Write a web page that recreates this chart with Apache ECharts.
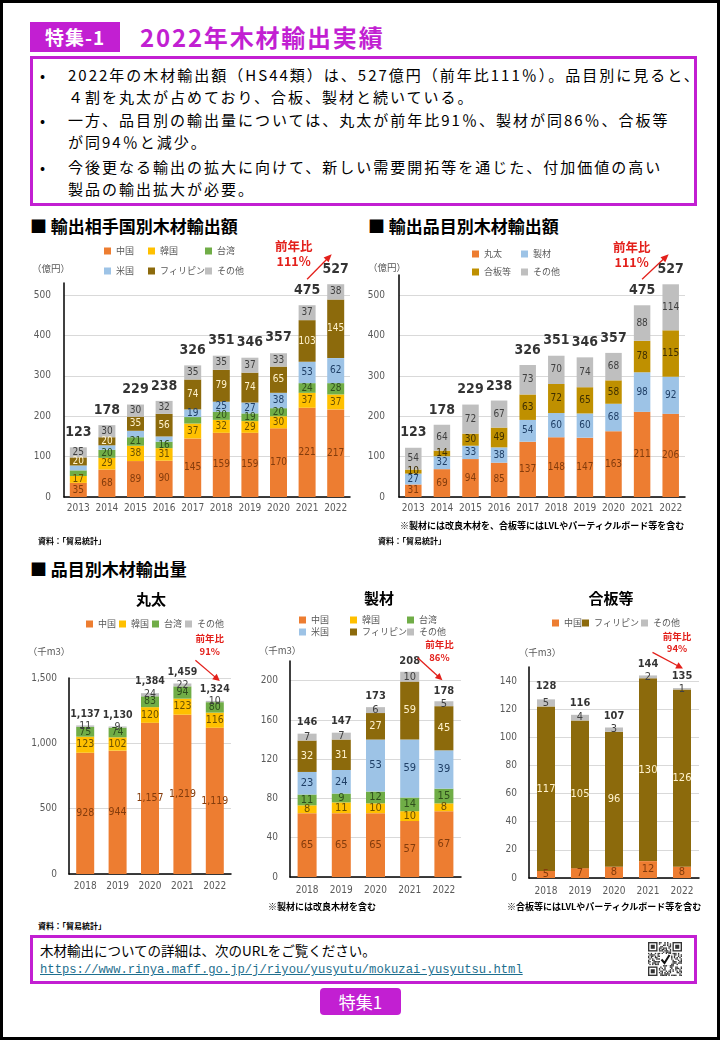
<!DOCTYPE html>
<html><head><meta charset="utf-8">
<script src="https://cdn.jsdelivr.net/npm/echarts@6/dist/echarts.min.js"></script>
<style>
html,body{margin:0;padding:0;background:#fff;}
#page{position:relative;width:720px;height:1040px;background:#fff;overflow:hidden;font-family:'Noto Sans CJK JP',sans-serif;color:#000;}
.a{position:absolute;white-space:nowrap;}
#frame{position:absolute;left:0;top:0;width:720px;height:1040px;box-sizing:border-box;border:3px solid #000;pointer-events:none;z-index:50;}
.tag{left:30px;top:22px;width:90px;height:30px;background:#C21FD2;color:#fff;font-weight:bold;font-size:19px;line-height:30px;text-align:center;letter-spacing:1px;}
.ttl{left:140px;top:21px;height:32px;line-height:32px;color:#C21FD2;font-weight:bold;font-size:24px;letter-spacing:1.8px;}
.box{left:30px;top:56px;width:667px;height:150px;box-sizing:border-box;border:3px solid #C21FD2;}
.bl{font-size:15px;line-height:22px;letter-spacing:2px;}
.dot{font-size:15px;line-height:22px;}
.sec{font-size:17px;font-weight:bold;line-height:20px;}
.note{font-size:9px;font-weight:bold;line-height:12px;}
.src{font-size:8px;font-weight:bold;line-height:12px;}
.chart{position:absolute;}
.foot{left:30px;top:935px;width:667px;height:49px;box-sizing:border-box;border:3px solid #C21FD2;}
.btn{left:320px;top:988px;width:81px;height:27px;background:#C21FD2;border-radius:4px;color:#fff;font-size:17px;line-height:27px;text-align:center;}
</style></head>
<body>
<div id="page">
  <div class="a tag">特集-1</div>
  <div class="a ttl">2022年木材輸出実績</div>
  <div class="a box"></div>
  <div class="a dot" style="left:40px;top:64px;">•</div>
  <div class="a bl" style="left:68px;top:64px;">2022年の木材輸出額（HS44類）は、527億円（前年比111％）。品目別に見ると、<br>４割を丸太が占めており、合板、製材と続いている。</div>
  <div class="a dot" style="left:40px;top:109px;">•</div>
  <div class="a bl" style="left:68px;top:109px;">一方、品目別の輸出量については、丸太が前年比91％、製材が同86％、合板等<br>が同94％と減少。</div>
  <div class="a dot" style="left:40px;top:156px;">•</div>
  <div class="a bl" style="left:68px;top:156px;">今後更なる輸出の拡大に向けて、新しい需要開拓等を通じた、付加価値の高い<br>製品の輸出拡大が必要。</div>

  <div class="a sec" style="left:30px;top:216px;">■ 輸出相手国別木材輸出額</div>
  <div class="a sec" style="left:368px;top:216px;">■ 輸出品目別木材輸出額</div>
  <div class="a sec" style="left:30px;top:559px;">■ 品目別木材輸出量</div>

  <div id="c1" class="chart" style="left:0px;top:230px;width:360px;height:330px;"></div>
  <div id="c2" class="chart" style="left:360px;top:230px;width:360px;height:330px;"></div>
  <div id="c3" class="chart" style="left:0px;top:580px;width:250px;height:330px;"></div>
  <div id="c4" class="chart" style="left:250px;top:580px;width:240px;height:330px;"></div>
  <div id="c5" class="chart" style="left:490px;top:580px;width:230px;height:330px;"></div>

  <div class="a src" style="left:38px;top:535px;">資料：「貿易統計」</div>
  <div class="a note" style="left:400px;top:520px;">※製材には改良木材を、合板等にはLVLやパーティクルボード等を含む</div>
  <div class="a src" style="left:378px;top:535px;">資料：「貿易統計」</div>
  <div class="a note" style="left:268px;top:901px;">※製材には改良木材を含む</div>
  <div class="a note" style="left:507px;top:901px;">※合板等にはLVLやパーティクルボード等を含む</div>
  <div class="a src" style="left:38px;top:920px;">資料：「貿易統計」</div>

  <div class="a foot"></div>
  <div class="a" style="left:40px;top:941px;font-size:13.5px;line-height:18px;">木材輸出についての詳細は、次のURLをご覧ください。</div>
  <div class="a" style="left:40px;top:961px;font-size:12.2px;line-height:18px;font-family:'Liberation Mono','DejaVu Sans Mono',monospace;color:#1E6F8E;text-decoration:underline;">https://www.rinya.maff.go.jp/j/riyou/yusyutu/mokuzai-yusyutsu.html</div>
  <canvas id="qr" class="a" width="34" height="35" style="left:648px;top:942px;width:34px;height:35px;"></canvas>
  <div class="a btn">特集1</div>
  <div id="frame"></div>
</div>
<script>
// ===== data =====
const years10 = ['2013','2014','2015','2016','2017','2018','2019','2020','2021','2022'];
// 輸出相手国別木材輸出額（億円）
const expChina  = [35, 68, 89, 90, 145, 159, 159, 170, 221, 217];
const expKorea  = [17, 29, 38, 31, 37, 32, 29, 30, 37, 37];
const expTaiwan = [14, 20, 21, 16, 16, 20, 19, 20, 24, 28];
const expUSA    = [12, 11, 16, 13, 19, 25, 27, 38, 53, 62];
const expPhil   = [20, 20, 35, 56, 74, 79, 74, 65, 103, 145];
const expOther  = [25, 30, 30, 32, 35, 35, 37, 33, 37, 38];
const expTotal  = [123, 178, 229, 238, 326, 351, 346, 357, 475, 527];
// 輸出品目別木材輸出額（億円）
const itemLog    = [31, 69, 94, 85, 137, 148, 147, 163, 211, 206];
const itemLumber = [27, 32, 33, 38, 54, 60, 60, 68, 98, 92];
const itemPly    = [10, 14, 30, 49, 63, 72, 65, 58, 78, 115];
const itemOther  = [54, 64, 72, 67, 73, 70, 74, 68, 88, 114];
const itemTotal  = [123, 178, 229, 238, 326, 351, 346, 357, 475, 527];

const years5 = ['2018','2019','2020','2021','2022'];
// 丸太（千m3）
const logChina  = [928, 944, 1157, 1219, 1119];
const logKorea  = [123, 102, 120, 123, 116];
const logTaiwan = [75, 74, 83, 94, 80];
const logOther  = [11, 9, 24, 22, 10];
const logTotal  = [1137, 1130, 1384, 1459, 1324];
// 製材（千m3）
const lumChina  = [65, 65, 65, 57, 67];
const lumKorea  = [8, 11, 10, 10, 8];
const lumTaiwan = [11, 9, 12, 14, 15];
const lumUSA    = [23, 24, 53, 59, 39];
const lumPhil   = [32, 31, 27, 59, 45];
const lumOther  = [7, 7, 6, 10, 5];
const lumTotal  = [146, 147, 173, 208, 178];
// 合板等（千m3）
const plyChina = [5, 7, 8, 12, 8];
const plyPhil  = [117, 105, 96, 130, 126];
const plyOther = [5, 4, 3, 2, 1];
const plyTotal = [128, 116, 107, 144, 135];

// tick labels
const ticksValue = [0, 100, 200, 300, 400, 500];
const ticksLog   = [0, 500, 1000, 1500];
const ticksLum   = [0, 40, 80, 120, 160, 200];
const ticksPly   = [0, 20, 40, 60, 80, 100, 120, 140];

const yoyValue = ['前年比', '111%'];
const yoyLog = ['前年比', '91%'];
const yoyLum = ['前年比', '86%'];
const yoyPly = ['前年比', '94%'];

// ===== styles =====
const NUM = "'DejaVu Sans Condensed','DejaVu Sans',sans-serif";
const JP = "'Noto Sans CJK JP',sans-serif";
const C = {china:'#ED7D31', korea:'#FFC000', taiwan:'#70AD47', usa:'#9DC3E6', phil:'#8C6A0C', other:'#BFBFBF', ply:'#BF9000'};
const L = {china:'#843C0C', korea:'#6B5000', taiwan:'#2F4F1C', usa:'#1F3F66', phil:'#FFF2CC', other:'#404040', ply:'#3F2F00'};
const fmt = v => Number(v).toLocaleString('en-US');

function arrowGraphic(s, e, head, w) {
  const dx = e[0]-s[0], dy = e[1]-s[1], len = Math.hypot(dx, dy);
  const ux = dx/len, uy = dy/len, nx = -uy, ny = ux;
  const bx = e[0]-ux*head, by = e[1]-uy*head;
  return [
    {type:'line', silent:true, z:100, shape:{x1:s[0], y1:s[1], x2:bx+ux, y2:by+uy}, style:{stroke:'#E3201B', lineWidth:1.3}},
    {type:'polygon', silent:true, z:100, shape:{points:[[e[0],e[1]],[bx+nx*w,by+ny*w],[bx-nx*w,by-ny*w]]}, style:{fill:'#E3201B'}}
  ];
}

function build(id, c) {
  const chart = echarts.init(document.getElementById(id), null, {renderer:'canvas'});
  const series = c.series.map(s => ({
    type:'bar', name:s.name, stack:'t', barWidth:c.barWidth, animation:false,
    itemStyle:{color:s.color}, emphasis:{disabled:true},
    label:{show:true, position:'inside', color:s.lc, fontSize:c.ls, fontFamily:NUM, formatter:p => fmt(p.value)},
    data:s.data.map((v, j) => (s.hide && s.hide.indexOf(j) >= 0) ? {value:v, label:{show:false}} : v)
  }));
  series.push({type:'scatter', name:'合計', data:c.totals, symbolSize:0, silent:true, z:10, animation:false,
    label:{show:true, position:'top', distance:c.td, color:'#000', fontWeight:'bold', fontSize:c.ts, fontFamily:NUM, formatter:p => fmt(p.value)}});
  const legend = c.legend.map(l => ({
    data:[l[0]], left:l[1], top:l[2], padding:0, itemGap:0, itemWidth:7, itemHeight:7, icon:'rect', selectedMode:false,
    textStyle:{fontSize:9, color:'#595959', fontFamily:JP, lineHeight:12}
  }));
  const graphic = [{type:'text', silent:true, style:{text:c.unit[0], x:c.unit[1], y:c.unit[2], align:'center', verticalAlign:'middle', fill:'#595959', fontSize:9.5, fontFamily:JP}}];
  if (c.title) graphic.push({type:'text', silent:true, style:{text:c.title[0], x:c.title[1], y:c.title[2], align:'center', verticalAlign:'middle', fill:'#000', fontSize:15, fontWeight:'bold', fontFamily:JP}});
  chart.setOption({
    animation:false,
    grid:Object.assign({outerBoundsMode:'none', containLabel:false}, c.grid),
    legend:legend,
    tooltip:{show:false},
    xAxis:{type:'category', data:c.cats,
      axisLine:{show:true, lineStyle:{color:'#000', width:1.5}}, axisTick:{show:false},
      axisLabel:{interval:0, color:'#595959', fontSize:10, fontFamily:NUM, margin:c.xlm}},
    yAxis:{type:'value', min:0, max:c.max,
      axisLine:{show:true, lineStyle:{color:'#000', width:1.5}},
      axisTick:{show:false, customValues:c.ticks},
      axisLabel:{customValues:c.ticks, color:'#595959', fontSize:10, fontFamily:NUM, margin:c.ylm, formatter:v => fmt(v)},
      splitLine:{show:true, lineStyle:{color:'#D9D9D9', width:1}}},
    series:series,
    graphic:graphic
  });
  // YoY annotation anchored on the last two totals
  const a = c.yoy, n = c.totals.length;
  const p1 = chart.convertToPixel({gridIndex:0}, [n-2, c.totals[n-2]]);
  const p2 = chart.convertToPixel({gridIndex:0}, [n-1, c.totals[n-1]]);
  const s = [p1[0]+a.s[0], p1[1]+a.s[1]], e = [p2[0]+a.e[0], p2[1]+a.e[1]];
  const g = arrowGraphic(s, e, a.head, a.hw);
  g.push({type:'text', silent:true, z:100, style:{text:a.text[0], x:p2[0]+a.t[0], y:p2[1]+a.t[1], align:'center', verticalAlign:'middle', fill:'#E3201B', fontSize:a.fs, fontWeight:'bold', fontFamily:JP}});
  g.push({type:'text', silent:true, z:100, style:{text:a.text[1], x:p2[0]+a.t[0], y:p2[1]+a.t[2], align:'center', verticalAlign:'middle', fill:'#E3201B', fontSize:a.fs, fontWeight:'bold', fontFamily:JP}});
  chart.setOption({graphic:graphic.concat(g)});
  return chart;
}

build('c1', {
  cats:years10, totals:expTotal, max:530, ticks:ticksValue, barWidth:17, ls:10, ts:14, td:8, xlm:6, ylm:13,
  grid:{left:64, right:10, top:53, bottom:63},
  series:[
    {name:'中国', data:expChina, color:C.china, lc:L.china},
    {name:'韓国', data:expKorea, color:C.korea, lc:L.korea},
    {name:'台湾', data:expTaiwan, color:C.taiwan, lc:L.taiwan, hide:[0,4]},
    {name:'米国', data:expUSA, color:C.usa, lc:L.usa, hide:[0,1,2,3]},
    {name:'フィリピン', data:expPhil, color:C.phil, lc:L.phil},
    {name:'その他', data:expOther, color:C.other, lc:L.other}
  ],
  legend:[['中国',104,15],['韓国',148,15],['台湾',205,15],['米国',104,35],['フィリピン',148,35],['その他',205,35]],
  unit:['（億円）',51,38],
  yoy:{text:yoyValue, s:[0,-26], e:[-4,-30], t:[-42,-38,-23], fs:12.5, head:8, hw:3.5}
});

build('c2', {
  cats:years10, totals:itemTotal, max:550, ticks:ticksValue, barWidth:16.5, ls:10, ts:14, td:8, xlm:6, ylm:14,
  grid:{left:39, right:35, top:45, bottom:63},
  series:[
    {name:'丸太', data:itemLog, color:C.china, lc:L.china},
    {name:'製材', data:itemLumber, color:C.usa, lc:L.usa},
    {name:'合板等', data:itemPly, color:C.ply, lc:L.ply},
    {name:'その他', data:itemOther, color:C.other, lc:L.other}
  ],
  legend:[['丸太',112,18],['製材',161,18],['合板等',112,36],['その他',161,36]],
  unit:['（億円）',27,37],
  yoy:{text:yoyValue, s:[0,-26], e:[-2,-30], t:[-39,-37,-22], fs:12.5, head:8, hw:3.5}
});

build('c3', {
  cats:years5, totals:logTotal, max:1500, ticks:ticksLog, barWidth:18, ls:10.5, ts:10.5, td:6, xlm:7, ylm:12,
  grid:{left:69, right:19, top:98, bottom:36},
  series:[
    {name:'中国', data:logChina, color:C.china, lc:L.china},
    {name:'韓国', data:logKorea, color:C.korea, lc:L.korea},
    {name:'台湾', data:logTaiwan, color:C.taiwan, lc:L.taiwan},
    {name:'その他', data:logOther, color:C.other, lc:L.other}
  ],
  legend:[['中国',86,38],['韓国',119,38],['台湾',152,38],['その他',185,38]],
  unit:['（千m3）',49,71],
  title:['丸太',151,19],
  yoy:{text:yoyLog, s:[13,-23], e:[5,-20], t:[-5,-63,-50], fs:9.5, head:7, hw:3.5}
});

build('c4', {
  cats:years5, totals:lumTotal, max:220, ticks:ticksLum, barWidth:19, ls:11, ts:11, td:6, xlm:8, ylm:12,
  grid:{left:40, right:29, top:81, bottom:33},
  series:[
    {name:'中国', data:lumChina, color:C.china, lc:L.china},
    {name:'韓国', data:lumKorea, color:C.korea, lc:L.korea},
    {name:'台湾', data:lumTaiwan, color:C.taiwan, lc:L.taiwan},
    {name:'米国', data:lumUSA, color:C.usa, lc:L.usa},
    {name:'フィリピン', data:lumPhil, color:C.phil, lc:L.phil},
    {name:'その他', data:lumOther, color:C.other, lc:L.other}
  ],
  legend:[['中国',49,34],['韓国',100,34],['台湾',157,34],['米国',49,46],['フィリピン',100,46],['その他',157,46]],
  unit:['（千m3）',30,70],
  title:['製材',129,18],
  yoy:{text:yoyLum, s:[8,-15], e:[-1.5,-22], t:[-4.5,-58,-45], fs:9.5, head:7, hw:3.5}
});

build('c5', {
  cats:years5, totals:plyTotal, max:150, ticks:ticksPly, barWidth:18, ls:11, ts:11, td:6, xlm:8, ylm:12,
  grid:{left:39, right:21, top:87, bottom:32},
  series:[
    {name:'中国', data:plyChina, color:C.china, lc:L.china},
    {name:'フィリピン', data:plyPhil, color:C.phil, lc:L.phil},
    {name:'その他', data:plyOther, color:C.other, lc:L.other}
  ],
  legend:[['中国',62,37],['フィリピン',92,37],['その他',151,37]],
  unit:['（千m3）',50,72],
  title:['合板等',121,18],
  yoy:{text:yoyPly, s:[4.5,-23], e:[1,-19.5], t:[-5,-52,-40], fs:9.5, head:7, hw:3.5}
});

// decorative QR-like code (pattern derived from the URL string)
(function(){
  const cv = document.getElementById('qr'), ctx = cv.getContext('2d');
  const N = 25, s = 34/N, url = 'https://www.rinya.maff.go.jp/j/riyou/yusyutu/mokuzai-yusyutsu.html';
  let h = 7;
  for (let i = 0; i < url.length; i++) h = (h*31 + url.charCodeAt(i)) >>> 0;
  ctx.fillStyle = '#fff'; ctx.fillRect(0,0,34,35);
  ctx.fillStyle = '#333';
  const inFinder = (x,y) => (x<8&&y<8)||(x>N-9&&y<8)||(x<8&&y>N-9);
  for (let y = 0; y < N; y++) for (let x = 0; x < N; x++) {
    h = (h*1103515245 + 12345) >>> 0;
    if (!inFinder(x,y) && ((h>>>16)&1)) ctx.fillRect(x*s, y*s, s, s);
  }
  function finder(x,y){ctx.fillStyle='#333';ctx.fillRect(x*s,y*s,7*s,7*s);ctx.fillStyle='#fff';ctx.fillRect((x+1)*s,(y+1)*s,5*s,5*s);ctx.fillStyle='#333';ctx.fillRect((x+2)*s,(y+2)*s,3*s,3*s);}
  finder(0,0); finder(N-7,0); finder(0,N-7);
  ctx.fillStyle='#fff'; ctx.fillRect(12,12,11,11);
  ctx.strokeStyle='#111'; ctx.lineWidth=2; ctx.beginPath(); ctx.moveTo(13.5,17.5); ctx.lineTo(16.5,21); ctx.lineTo(21.5,13); ctx.stroke();
})();
</script>
</body></html>
